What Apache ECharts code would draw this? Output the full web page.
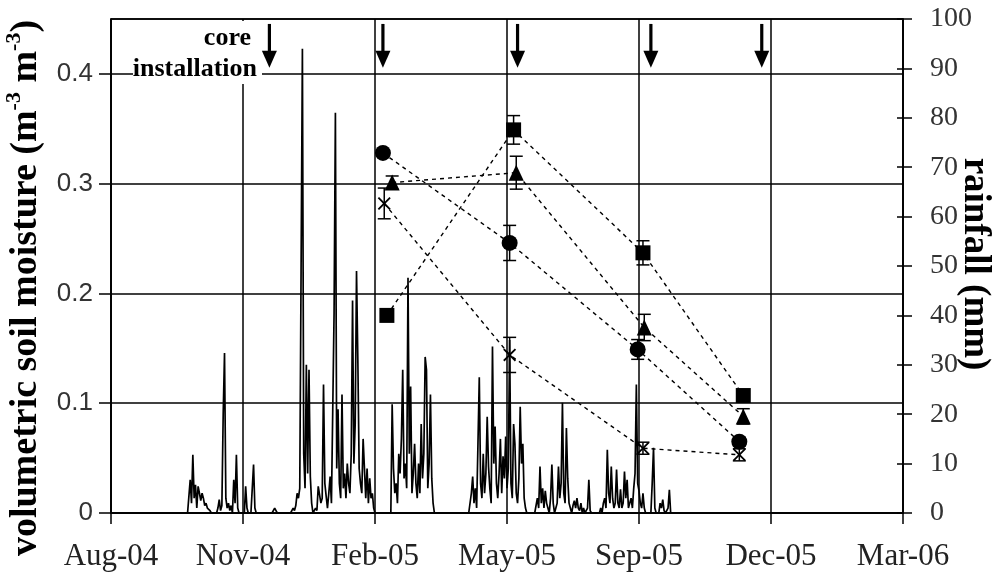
<!DOCTYPE html>
<html>
<head>
<meta charset="utf-8">
<script src="https://cdn.jsdelivr.net/npm/echarts@6/dist/echarts.min.js"></script>
<style>
  html, body { margin: 0; padding: 0; background: #fff; }
  #chart { width: 1002px; height: 582px; }
</style>
</head>
<body>
<div id="chart"></div>
<script>
// Time axis in spreadsheet day serials (38200 = 1 Aug 2004), one tick every 100 days
const X_MIN = 38200;
const X_MAX = 38800;
const X_STEP = 100;
const xTickLabels = ['Aug-04', 'Nov-04', 'Feb-05', 'May-05', 'Sep-05', 'Dec-05', 'Mar-06'];

// Soil moisture (m3 m-3) per core, with standard errors
const circleDates = ['2005-02-23', '2005-05-30', '2005-09-04', '2005-11-20'];
const circleVals  = [0.328, 0.246, 0.149, 0.065];
const circleErr   = [0.003, 0.016, 0.009, 0.004];

const triangleDates = ['2005-03-02', '2005-06-04', '2005-09-09', '2005-11-23'];
const triangleVals  = [0.301, 0.310, 0.169, 0.088];
const triangleErr   = [0.006, 0.015, 0.012, 0.007];

const squareDates = ['2005-02-26', '2005-06-02', '2005-09-08', '2005-11-23'];
const squareVals  = [0.180, 0.349, 0.237, 0.107];
const squareErr   = [0.003, 0.013, 0.011, 0.004];

const crossDates = ['2005-02-24', '2005-05-30', '2005-09-08', '2005-11-20'];
const crossVals  = [0.282, 0.144, 0.059, 0.053];
const crossErr   = [0.014, 0.016, 0.0055, 0.0055];

// Core installation dates (arrows)
const coreDates = ['2004-11-29', '2005-02-23', '2005-06-05', '2005-09-14', '2005-12-07'];

// Daily rainfall (mm), starting on rainStart
const rainStart = '2004-09-28';
const rainfall = [
  0, 0,
  6.7, 2, 11.8, 3, 5.7, 1, 5.4, 4, 2.5, 4,
  3, 1.5, 2, 1, 1.3, 0.5, 0, 0, 0, 0,
  0, 1, 2.7, 0.5, 1.5, 20, 32.4, 3, 1, 2,
  0.5, 1.5, 0, 6.7, 2, 11.8, 1, 0, 0, 0,
  0, 0, 5.4, 1, 0, 0, 0, 0, 9.8, 1,
  0, 0, 0, 0, 0, 0, 0, 0, 0, 0, 0, 0, 0, 0,
  1, 0.5, 0, 0, 0, 0, 0, 0, 0, 0, 0, 0, 0, 0.5, 1, 0.5,
  1.5, 4, 3, 5, 49, 94, 12, 5, 30, 8,
  29, 7.4, 2, 0, 0, 1, 0.5, 5.4, 5.7, 2,
  3, 26, 6, 3.4, 1, 4, 7.4, 2, 21, 40.5,
  81, 9, 21, 6, 3, 24, 5, 8, 3, 10,
  6, 4, 12, 43, 10, 18, 49, 31, 9, 6,
  4, 15, 9, 3, 9, 2, 7, 3, 4, 1,
  0, 0, 0, 0, 0, 0, 0, 0, 0, 0, 0, 0, 0,
  22, 9, 4, 6, 2, 12, 8,
  15, 29, 7, 10, 5, 47.6, 12, 25.6, 4, 8,
  14, 6, 3, 10, 4, 18, 7, 12, 31.6, 29,
  5, 10, 24, 7, 2,
  0, 0, 0, 0, 0, 0, 0, 0, 0, 0, 0, 0, 0, 0,
  0, 0, 0, 0, 0, 0, 0, 0, 0, 0, 0, 0, 0, 0,
  4, 7.4, 2, 5, 1, 14, 27.5,
  6, 3, 12, 4, 8, 19.5, 9.4, 5, 2, 33.7,
  10, 17.5, 6, 3, 8, 15, 4, 11.5, 7, 15.5,
  5, 9, 35, 6, 3, 18, 14, 4, 2, 7,
  21.5, 10, 14, 3, 1,
  0, 0, 0, 0, 0, 0, 0, 0,
  3, 1, 9.4, 2, 5, 1, 4.5,
  2, 1, 0, 3, 9.8, 2, 0, 0, 2, 9.4,
  3, 6, 22.3, 4, 2, 17.2, 7, 2, 1, 0,
  1.5, 2.5, 1, 3, 1, 0.5, 2, 0, 1, 0,
  0, 1, 6.7, 0.5, 0, 0, 0, 0, 0, 0,
  0, 1, 0, 2, 3, 1, 12.8, 4, 2, 9.4,
  3, 1, 2, 8.8, 2, 1, 4.8, 1, 2, 8.4,
  3, 6.7, 1, 2, 3, 1, 5, 8, 26, 6,
  4.5, 2, 1, 4, 1, 0, 0, 0, 0, 0,
  6, 13.2, 1, 0, 0, 0, 2, 1, 2.7, 0.5,
  0, 0, 1, 4.7, 0
];

// Convert an ISO date to a spreadsheet day serial
function serial(iso) {
  const p = iso.split('-').map(Number);
  return 25569 + Date.UTC(p[0], p[1] - 1, p[2]) / 86400000;
}

const INK = '#000';
const ARROW_TOP = 0.4455;
const ARROW_TIP = 0.4055;

const rainData = rainfall.map((v, i) => [serial(rainStart) + i, v]);
const pts = (dates, vals) => dates.map((d, i) => [serial(d), vals[i]]);
const errPts = (dates, vals, errs) => dates.map((d, i) => [serial(d), vals[i], errs[i]]);

const errorData = []
  .concat(errPts(circleDates, circleVals, circleErr))
  .concat(errPts(triangleDates, triangleVals, triangleErr))
  .concat(errPts(squareDates, squareVals, squareErr))
  .concat(errPts(crossDates, crossVals, crossErr));

const crossSymbol = 'path://M0,1 L1,0 L5,4 L9,0 L10,1 L6,5 L10,9 L9,10 L5,6 L1,10 L0,9 L4,5 Z';

function moistureSeries(name, data, symbol, size) {
  return {
    name: name,
    type: 'line',
    xAxisIndex: 0,
    yAxisIndex: 0,
    data: data,
    symbol: symbol,
    symbolSize: size,
    showAllSymbol: true,
    lineStyle: { color: INK, width: 1.4, type: [4, 4] },
    itemStyle: { color: INK, borderWidth: 0 },
    z: 6,
    silent: true
  };
}

const chart = echarts.init(document.getElementById('chart'), null, { renderer: 'canvas' });

chart.setOption({
  animation: false,
  backgroundColor: '#fff',
  grid: {
    left: 111, right: 99, top: 19, bottom: 69,
    show: true, borderColor: INK, borderWidth: 1.5, backgroundColor: 'transparent'
  },
  xAxis: {
    type: 'value',
    min: X_MIN, max: X_MAX, interval: X_STEP,
    axisLine: { show: true, onZero: false, lineStyle: { color: INK, width: 1.5 } },
    axisTick: { show: true, length: 11, lineStyle: { color: INK, width: 1.5 } },
    axisLabel: {
      formatter: v => xTickLabels[Math.round((v - X_MIN) / X_STEP)] || '',
      fontFamily: 'Liberation Serif', fontSize: 31, color: '#222', margin: 28
    },
    splitLine: { show: true, lineStyle: { color: INK, width: 1.5 } }
  },
  yAxis: [
    {
      type: 'value', position: 'left',
      min: 0, max: 0.45, interval: 0.1,
      axisLine: { show: true, lineStyle: { color: INK, width: 1.5 } },
      axisTick: { show: true, length: 12, lineStyle: { color: INK, width: 1.5 } },
      axisLabel: {
        showMaxLabel: false,
        fontFamily: 'Liberation Sans', fontSize: 26, color: '#333', margin: 18
      },
      splitLine: { show: true, lineStyle: { color: INK, width: 1.5 } }
    },
    {
      type: 'value', position: 'right',
      min: 0, max: 100, interval: 10,
      axisLine: { show: true, lineStyle: { color: INK, width: 1.5 } },
      axisTick: { show: true, length: 9, lineStyle: { color: INK, width: 1.5 } },
      axisLabel: { fontFamily: 'Liberation Serif', fontSize: 28, color: '#333', margin: 27 },
      splitLine: { show: false }
    },
    {
      type: 'value', position: 'right',
      min: 0, max: 100, interval: 10,
      axisLine: { show: false },
      axisTick: { show: true, inside: true, length: 6, lineStyle: { color: INK, width: 1.5 } },
      axisLabel: { show: false },
      splitLine: { show: false }
    }
  ],
  graphic: [
    {
      type: 'rect', z: 3,
      shape: { x: 133, y: 21, width: 129, height: 63 },
      style: { fill: '#fff' }
    },
    {
      type: 'text', z: 4, x: 251, y: 38,
      style: {
        text: 'core', fill: INK,
        font: 'bold 26px "Liberation Serif"', align: 'right', verticalAlign: 'middle'
      }
    },
    {
      type: 'text', z: 4, x: 257, y: 69,
      style: {
        text: 'installation', fill: INK,
        font: 'bold 26px "Liberation Serif"', align: 'right', verticalAlign: 'middle'
      }
    },
    {
      type: 'text', z: 4, x: 26, y: 288, rotation: Math.PI / 2,
      style: {
        text: '{a|volumetric soil moisture (m}{s|-3}{a| m}{s|-3}{a|)}',
        align: 'center', verticalAlign: 'middle',
        rich: {
          a: { fontFamily: 'Liberation Serif', fontWeight: 'bold', fontSize: 38, lineHeight: 46, fill: INK, color: INK },
          s: { fontFamily: 'Liberation Serif', fontWeight: 'bold', fontSize: 22, lineHeight: 22, verticalAlign: 'top', fill: INK, color: INK }
        }
      }
    },
    {
      type: 'text', z: 4, x: 975, y: 264, rotation: -Math.PI / 2,
      style: {
        text: 'rainfall (mm)', fill: INK,
        font: 'bold 37px "Liberation Serif"', align: 'center', verticalAlign: 'middle'
      }
    }
  ],
  series: [
    {
      name: 'rainfall',
      type: 'line',
      xAxisIndex: 0,
      yAxisIndex: 1,
      data: rainData,
      symbol: 'none',
      lineStyle: { color: INK, width: 1.7 },
      z: 2,
      silent: true
    },
    {
      name: 'core installation',
      type: 'custom',
      xAxisIndex: 0,
      yAxisIndex: 0,
      data: coreDates.map(d => [serial(d)]),
      encode: { x: 0 },
      clip: false,
      z: 7,
      silent: true,
      renderItem: function (params, api) {
        const x = api.value(0);
        const top = api.coord([x, ARROW_TOP]);
        const tip = api.coord([x, ARROW_TIP]);
        const headH = 17, headW = 7.5;
        return {
          type: 'group',
          children: [
            {
              type: 'line',
              shape: { x1: top[0], y1: top[1], x2: tip[0], y2: tip[1] - headH + 2 },
              style: { stroke: INK, lineWidth: 3.2 }
            },
            {
              type: 'polygon',
              shape: { points: [[tip[0] - headW, tip[1] - headH], [tip[0] + headW, tip[1] - headH], [tip[0], tip[1]]] },
              style: { fill: INK }
            }
          ]
        };
      }
    },
    {
      name: 'error bars',
      type: 'custom',
      xAxisIndex: 0,
      yAxisIndex: 0,
      data: errorData,
      encode: { x: 0, y: 1 },
      z: 5,
      silent: true,
      renderItem: function (params, api) {
        const x = api.value(0), y = api.value(1), e = api.value(2);
        const hi = api.coord([x, y + e]);
        const lo = api.coord([x, y - e]);
        const w = 6.5;
        const st = { stroke: INK, lineWidth: 1.5 };
        return {
          type: 'group',
          children: [
            { type: 'line', shape: { x1: hi[0], y1: hi[1], x2: lo[0], y2: lo[1] }, style: st },
            { type: 'line', shape: { x1: hi[0] - w, y1: hi[1], x2: hi[0] + w, y2: hi[1] }, style: st },
            { type: 'line', shape: { x1: lo[0] - w, y1: lo[1], x2: lo[0] + w, y2: lo[1] }, style: st }
          ]
        };
      }
    },
    moistureSeries('circle', pts(circleDates, circleVals), 'circle', 16),
    moistureSeries('triangle', pts(triangleDates, triangleVals), 'triangle', [15, 16]),
    moistureSeries('square', pts(squareDates, squareVals), 'rect', 15),
    moistureSeries('cross', pts(crossDates, crossVals), crossSymbol, 13)
  ]
});
</script>
</body>
</html>
